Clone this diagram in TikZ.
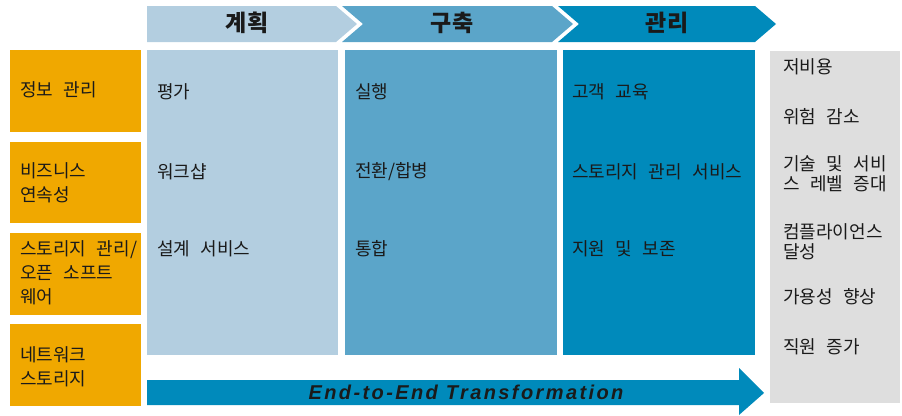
\documentclass[tikz,border=0pt]{standalone}
\usepackage{fontspec}
\setmainfont{Noto Sans CJK KR}[WordSpace=2.6]
\newfontfamily\arrowfont[LetterSpace=12]{Liberation Sans}
\definecolor{cA}{HTML}{B3CEE0}
\definecolor{cB}{HTML}{5BA5C9}
\definecolor{cC}{HTML}{008ABB}
\definecolor{cOr}{HTML}{F0A800}
\definecolor{cGr}{HTML}{DEDEDE}
\definecolor{txt}{HTML}{1A1A1A}
\tikzset{
  lbl/.style={anchor=west, inner sep=0pt, text=txt, font=\fontsize{18}{24}\selectfont, align=left},
  rlbl/.style={anchor=west, inner sep=0pt, text=txt, font=\fontsize{18}{20}\selectfont, align=left},
  hdr/.style={inner sep=0pt, text=txt, font=\fontsize{23}{24}\selectfont\bfseries},
}
\begin{document}
\begin{tikzpicture}[x=1pt,y=-1pt]
\useasboundingbox (0,0) rectangle (902,415);
% header chevrons
\fill[cA] (147,6) -- (336,6) -- (357,24) -- (336,42) -- (147,42) -- cycle;
\fill[cB] (342,6) -- (552,6) -- (573,24) -- (552,42) -- (342,42) -- (363,24) -- cycle;
\fill[cC] (558,6) -- (755,6) -- (776,24) -- (755,42) -- (558,42) -- (579,24) -- cycle;
\node[hdr] (h1) at (247,23) {계획};
\node[hdr] (h2) at (452,23) {구축};
\node[hdr] (h3) at (667,23) {관리};
% columns
\fill[cA] (147,50) rectangle (338,355);
\fill[cB] (345,50) rectangle (557,355);
\fill[cC] (563,50) rectangle (755,355);
\node[lbl] (a1) at (157,92) {평가};
\node[lbl] (a2) at (157,172) {워크샵};
\node[lbl] (a3) at (157,249) {설계 서비스};
\node[lbl] (b1) at (355,92) {실행};
\node[lbl] (b2) at (355,172) {전환/합병};
\node[lbl] (b3) at (355,249) {통합};
\node[lbl] (c1) at (572,92) {고객 교육};
\node[lbl] (c2) at (572,172) {스토리지 관리 서비스};
\node[lbl] (c3) at (572,249) {지원 및 보존};
% left boxes
\fill[cOr] (10,50) rectangle (141,132);
\fill[cOr] (10,142) rectangle (141,223);
\fill[cOr] (10,233) rectangle (141,315);
\fill[cOr] (10,324) rectangle (141,406);
\node[lbl] (l1) at (20,90) {정보 관리};
\node[lbl] (l2) at (20,182.5) {비즈니스\\연속성};
\node[lbl] (l3) at (20,273) {스토리지 관리/\\오픈 소프트\\웨어};
\node[lbl] (l4) at (20,366.5) {네트워크\\스토리지};
% right panel
\fill[cGr] (770,51) rectangle (900,403);
\node[rlbl] (r1) at (783,67) {저비용};
\node[rlbl] (r2) at (783,117) {위험 감소};
\node[rlbl] (r3) at (783,174) {기술 및 서비\\스 레벨 증대};
\node[rlbl] (r4) at (783,241.5) {컴플라이언스\\달성};
\node[rlbl] (r5) at (783,297) {가용성 향상};
\node[rlbl] (r6) at (783,347) {직원 증가};
% bottom arrow
\fill[cC] (147,380) -- (739,380) -- (739,368) -- (764,393) -- (739,415) -- (739,405) -- (147,405) -- cycle;
\node[inner sep=0pt, text=txt, font=\arrowfont\fontsize{20}{22}\selectfont\bfseries\itshape] (bt) at (466,392) {End-to-End Transformation};
\end{tikzpicture}
\end{document}
